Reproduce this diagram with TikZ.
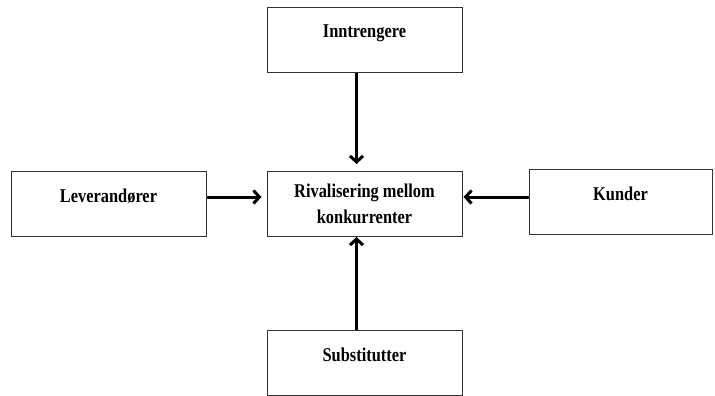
\documentclass[tikz,border=0pt]{standalone}
\usepackage{fontspec}
\setmainfont[FakeStretch=0.84]{Liberation Serif}
\usepackage{tikz}
\usetikzlibrary{positioning,arrows.meta}

\begin{document}
\begin{tikzpicture}[x=1pt,y=-1pt, >={Straight Barb[length=6pt,width=13pt]}]
    \tikzset{force node/.style = {rectangle, draw=black!80, line width=1pt, align=center,
        minimum width=195pt, minimum height=65pt, inner sep=0pt,
        font=\fontsize{19.5}{26}\selectfont\bfseries}}
    \useasboundingbox (0,0) rectangle (715,396);
    \node[force node] (r) at (364.5,204) {Rivalisering mellom\\konkurrenter};
    \node[force node] (i) [above = 98pt of r] {Inntrengere\\[-9pt]\mbox{}};
    \node[force node] (s) [below = 93pt of r] {Substitutter\\[-9pt]\mbox{}};
    \node[force node] (l) [left = 60pt of r] {Leverand\o rer\\[-9pt]\mbox{}};
    \node[force node, minimum width=183pt] (k) at (620.5,202) {Kunder\\[-9pt]\mbox{}};
    \path[->, line width=3pt]
   %FROM   to
    ([xshift=-8pt]i.south) edge[shorten >=7pt] ([xshift=-8pt]r.north)
    ([yshift=7pt]l.east) edge[shorten >=5pt] ([yshift=7pt]r.west)
    ([yshift=7pt]r.east -| k.west) edge[shorten >=1pt] ([yshift=7pt]r.east)
    ([xshift=-8pt]s.north) edge ([xshift=-8pt]r.south)
   ;
\end{tikzpicture}
\end{document}
